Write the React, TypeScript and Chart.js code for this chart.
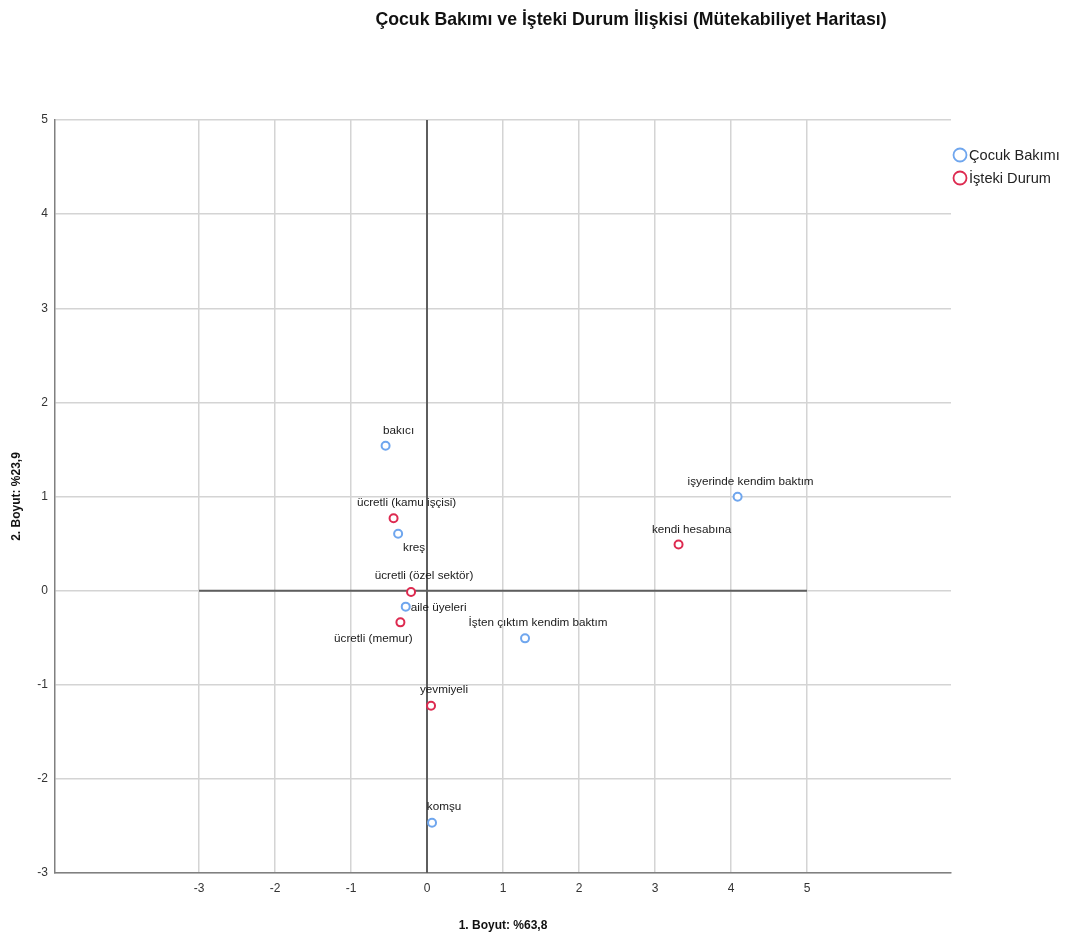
import React, { useEffect, useRef } from "react";
import { Chart, registerables } from "chart.js";

Chart.register(...registerables);

const TITLE = "Çocuk Bakımı ve İşteki Durum İlişkisi (Mütekabiliyet Haritası)";
const X_TITLE = "1. Boyut: %63,8";
const Y_TITLE = "2. Boyut: %23,9";
const X_TICKS = [-3, -2, -1, 0, 1, 2, 3, 4, 5];
const Y_TICKS = [-3, -2, -1, 0, 1, 2, 3, 4, 5];

const SERIES_NAMES = ["Çocuk Bakımı", "İşteki Durum"];

const careLabels = ["bakıcı", "işyerinde kendim baktım", "kreş", "aile üyeleri", "İşten çıktım kendim baktım", "komşu"];
const careX = [-0.545, 4.087, -0.38, -0.28, 1.29, 0.066];
const careY = [1.54, 0.998, 0.605, -0.17, -0.507, -2.466];

const workLabels = ["ücretli (kamu işçisi)", "kendi hesabına", "ücretli (özel sektör)", "ücretli (memur)", "yevmiyeli"];
const workX = [-0.44, 3.31, -0.21, -0.35, 0.053];
const workY = [0.768, 0.49, -0.015, -0.337, -1.223];

// label placement (style): offset of label centre relative to point
const careLabelPos = [[13, -15], [13, -15], [16, 14], ["right", 1], [13, -16], [12, -16]];
const workLabelPos = [[13, -16], [13, -15], [13, -16], [-27, 16], [13, -16]];

const COLORS = ["#6fa6ee", "#dd2a50"];
const FONT = "'Liberation Sans', Arial, sans-serif";

const toPoints = (xs: number[], ys: number[]) => xs.map((x, i) => ({ x, y: ys[i] }));

export default function App() {
  const ref = useRef<HTMLCanvasElement | null>(null);

  useEffect(() => {
    if (!ref.current) return;
    Chart.defaults.font.family = FONT;

    const zeroLines = {
      id: "zeroLines",
      beforeDatasetsDraw(chart: any) {
        const { ctx, chartArea, scales } = chart;
        const xs = scales.x, ys = scales.y;
        ctx.save();
        ctx.strokeStyle = "#5e5e5e";
        ctx.lineWidth = 2;
        const x0 = xs.getPixelForValue(0);
        ctx.beginPath();
        ctx.moveTo(x0, chartArea.top);
        ctx.lineTo(x0, chartArea.bottom);
        ctx.stroke();
        const y0 = ys.getPixelForValue(0);
        ctx.beginPath();
        ctx.moveTo(xs.getPixelForValue(X_TICKS[0]), y0);
        ctx.lineTo(xs.getPixelForValue(X_TICKS[X_TICKS.length - 1]), y0);
        ctx.stroke();
        ctx.restore();
      },
    };

    const pointLabels = {
      id: "pointLabels",
      afterDatasetsDraw(chart: any) {
        const { ctx } = chart;
        const allLabels = [careLabels, workLabels];
        const allPos = [careLabelPos, workLabelPos];
        ctx.save();
        ctx.font = `11.7px ${FONT}`;
        ctx.fillStyle = "#1a1a1a";
        ctx.textBaseline = "middle";
        chart.data.datasets.forEach((_: any, di: number) => {
          const meta = chart.getDatasetMeta(di);
          meta.data.forEach((el: any, i: number) => {
            const pos = allPos[di][i];
            const text = allLabels[di][i];
            if (pos[0] === "right") {
              ctx.textAlign = "left";
              ctx.fillText(text, el.x + 5, el.y + (pos[1] as number));
            } else {
              ctx.textAlign = "center";
              ctx.fillText(text, el.x + (pos[0] as number), el.y + (pos[1] as number));
            }
          });
        });
        ctx.restore();
      },
    };

    const titleAndLegend = {
      id: "titleAndLegend",
      afterDraw(chart: any) {
        const { ctx } = chart;
        ctx.save();
        ctx.fillStyle = "#111";
        ctx.font = `bold 17.7px ${FONT}`;
        ctx.textAlign = "center";
        ctx.textBaseline = "middle";
        ctx.fillText(TITLE, 631, 20);
        ctx.font = `14.6px ${FONT}`;
        ctx.textAlign = "left";
        SERIES_NAMES.forEach((name, i) => {
          const y = 155 + i * 23;
          ctx.beginPath();
          ctx.strokeStyle = COLORS[i];
          ctx.lineWidth = 1.8;
          ctx.arc(960, y, 6.5, 0, Math.PI * 2);
          ctx.stroke();
          ctx.fillStyle = "#222";
          ctx.fillText(name, 969, y + 1);
        });
        ctx.restore();
      },
    };

    const chart = new Chart(ref.current, {
      type: "scatter",
      data: {
        datasets: [
          {
            label: SERIES_NAMES[0],
            data: toPoints(careX, careY),
            borderColor: COLORS[0],
            backgroundColor: "#ffffff",
            pointRadius: 4,
            borderWidth: 2,
          },
          {
            label: SERIES_NAMES[1],
            data: toPoints(workX, workY),
            borderColor: COLORS[1],
            backgroundColor: "#ffffff",
            pointRadius: 4,
            borderWidth: 2,
          },
        ],
      },
      options: {
        animation: false,
        responsive: false,
        layout: { padding: { top: 120, right: 117, bottom: 0, left: 0 } },
        plugins: { legend: { display: false }, tooltip: { enabled: false }, title: { display: false } },
        scales: {
          x: {
            type: "linear",
            min: -4.895,
            max: 6.895,
            afterBuildTicks: (scale: any) => {
              scale.ticks = X_TICKS.map((v) => ({ value: v }));
            },
            afterFit: (scale: any) => {
              scale.height = 63;
            },
            grid: { color: "#d4d4d4", lineWidth: 1.5, drawTicks: false },
            border: { display: true, color: "#808080", width: 1.5 },
            ticks: { padding: 8, color: "#333", font: { size: 12 }, callback: (v: any) => String(v) },
            title: { display: true, text: X_TITLE, color: "#111", font: { size: 12, weight: "bold" }, padding: { top: 0, bottom: 3 } },
          },
          y: {
            type: "linear",
            min: -3,
            max: 5,
            afterBuildTicks: (scale: any) => {
              scale.ticks = Y_TICKS.map((v) => ({ value: v }));
            },
            afterFit: (scale: any) => {
              scale.width = 55;
            },
            grid: { color: "#d4d4d4", lineWidth: 1.5, drawTicks: false },
            border: { display: true, color: "#808080", width: 1.5 },
            ticks: { padding: 7, color: "#333", font: { size: 12 }, callback: (v: any) => String(v) },
            title: { display: true, text: Y_TITLE, color: "#111", font: { size: 12, weight: "bold" }, padding: { top: 9, bottom: 0 } },
          },
        },
      },
      plugins: [zeroLines, pointLabels, titleAndLegend],
    } as any);

    return () => chart.destroy();
  }, []);

  return (
    <div style={{ position: "fixed", left: 0, top: 0, width: 1068, height: 936, background: "#fff" }}>
      <canvas ref={ref} width={1068} height={936} style={{ display: "block", width: 1068, height: 936 }} />
    </div>
  );
}
